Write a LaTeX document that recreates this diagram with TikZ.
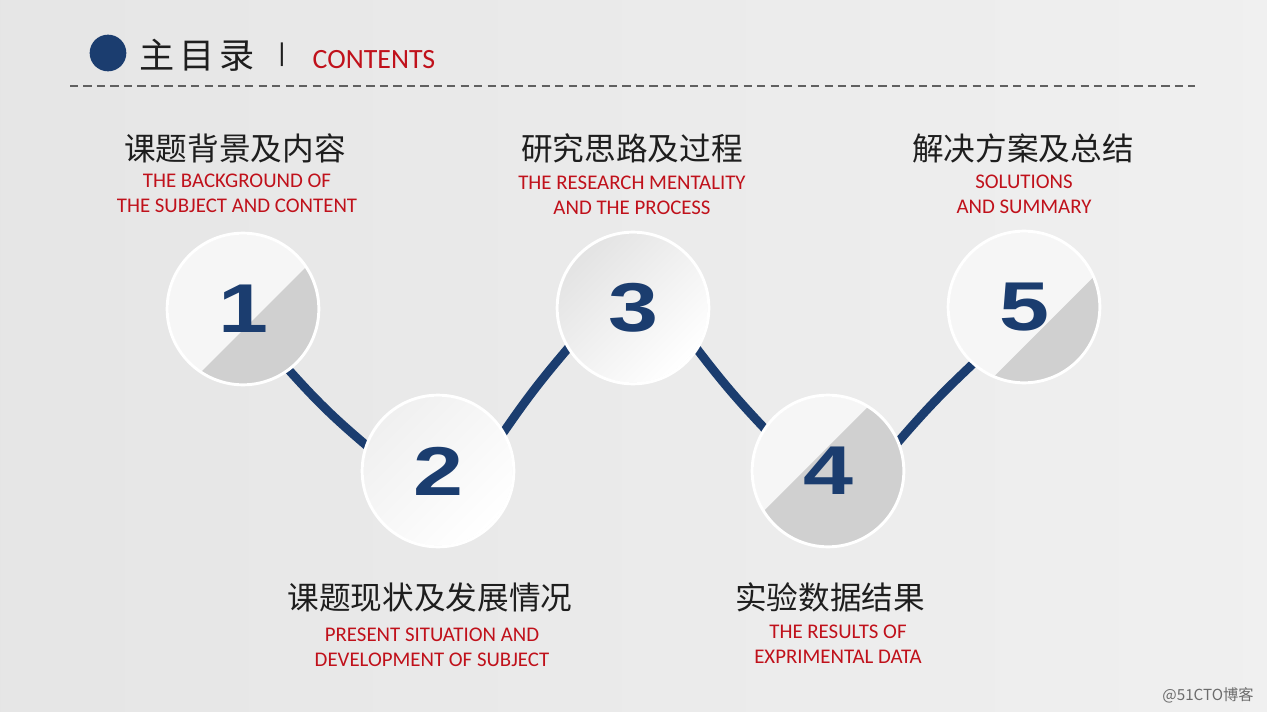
\documentclass[tikz,border=0pt]{standalone}
\usepackage{fontspec}
\setmainfont{Carlito}
\newfontfamily\cjk{Noto Sans CJK SC}
\newfontfamily\digitfont{Liberation Sans}
\usetikzlibrary{backgrounds,calc}
\definecolor{navy}{HTML}{1B3D6F}
\definecolor{titlered}{HTML}{C0111B}
\definecolor{inkgray}{HTML}{1E1E1E}
\definecolor{diskwhite}{HTML}{F6F6F6}
\definecolor{diskgray}{HTML}{D0D0D0}
\definecolor{rimgray}{HTML}{BDBDBD}
\newcommand\digitnum[1]{\scalebox{1.3}[1]{#1}}
\begin{document}
\begin{tikzpicture}[x=0.03cm, y=0.03cm,
  disc/.style={circle, minimum size=4.55cm, inner sep=0pt, draw=white, line width=2.5pt,
    fill=diskwhite, text=navy, font=\fontsize{59}{60}\digitfont\bfseries},
  cut/.style={path picture={
    \fill[diskgray] ($(path picture bounding box.center)+(-45:#1)+(45:120)$)
      -- ++(-45:150) -- ++(225:240) -- ++(135:150) -- cycle;
    \draw[rimgray, line width=1pt] (path picture bounding box.center) circle (75.5);}},
  plain/.style={path picture={
    \draw[rimgray, line width=1pt] (path picture bounding box.center) circle (75.5);}},
  cntitle/.style={font=\fontsize{27}{30}\cjk, text=inkgray},
  entitle/.style={font=\fontsize{17.8}{21.3}\selectfont, text=titlered, align=center},
  link/.style={navy, line width=7.5pt, shorten <=-4pt, shorten >=-4pt}]
\useasboundingbox (0,0) rectangle (1267,-712);

% header
\node[circle, fill=navy, minimum size=1.1cm, inner sep=0pt] (dot) at (108,-53) {};
\node[font=\fontsize{30}{32}\cjk, text=inkgray] (head) at (197,-55) {主\hspace{0.15cm}目\hspace{0.15cm}录};
\node[font=\fontsize{22}{24}\cjk, text=inkgray] (bar) at (282,-55) {丨};
\node[font=\fontsize{23.8}{26}\selectfont, text=titlered] (contents) at (374,-60) {CONTENTS};
\coordinate (ruleL) at (70,-86);
\coordinate (ruleR) at (1195,-86);
\draw[gray!75!black, line width=1.1pt, dash pattern=on 7pt off 4.5pt] (ruleL) -- (ruleR);

% circles
\node[disc, cut=15] (c1) at (243,-309) {\digitnum{1}};
\node[disc, plain, top color=gray!12, bottom color=white, shading angle=45] (c2) at (438,-471) {\digitnum{2}};
\node[disc, plain, top color=gray!22, bottom color=white, shading angle=45] (c3) at (633,-308) {\digitnum{3}};
\node[disc, cut=-17] (c4) at (828,-471) {\digitnum{4}};
\node[disc, cut=28] (c5) at (1024,-307) {\digitnum{5}};

% titles
\node[cntitle] (t1) at (235,-148) {课题背景及内容};
\node[entitle] (e1) at (237,-193.5) {THE BACKGROUND OF\\THE SUBJECT AND CONTENT};
\node[cntitle] (t2) at (430,-597) {课题现状及发展情况};
\node[entitle] (e2) at (432,-647.5) {PRESENT SITUATION AND\\DEVELOPMENT OF SUBJECT};
\node[cntitle] (t3) at (632,-148) {研究思路及过程};
\node[entitle] (e3) at (632,-195) {THE RESEARCH MENTALITY\\AND THE PROCESS};
\node[cntitle] (t4) at (830,-597) {实验数据结果};
\node[entitle] (e4) at (838,-644) {THE RESULTS OF\\EXPRIMENTAL DATA};
\node[cntitle] (t5) at (1023,-148) {解决方案及总结};
\node[entitle] (e5) at (1024,-194.5) {SOLUTIONS\\AND SUMMARY};

\node[font=\fontsize{13}{14}\cjk, text=gray!85!black] (mark) at (1208,-695) {@51CTO博客};

\begin{scope}[on background layer]
\shade[left color=black!10, right color=black!6] (0,0) rectangle (1267,-712);
\draw[link] (c1.-53) to[bend right=4] (c2.160);
\draw[link] (c2.31) to[bend left=3] (c3.212);
\draw[link] (c3.-33) to[bend right=3] (c4.146);
\draw[link] (c4.23) to[bend left=3] (c5.228);
\end{scope}
\end{tikzpicture}
\end{document}
